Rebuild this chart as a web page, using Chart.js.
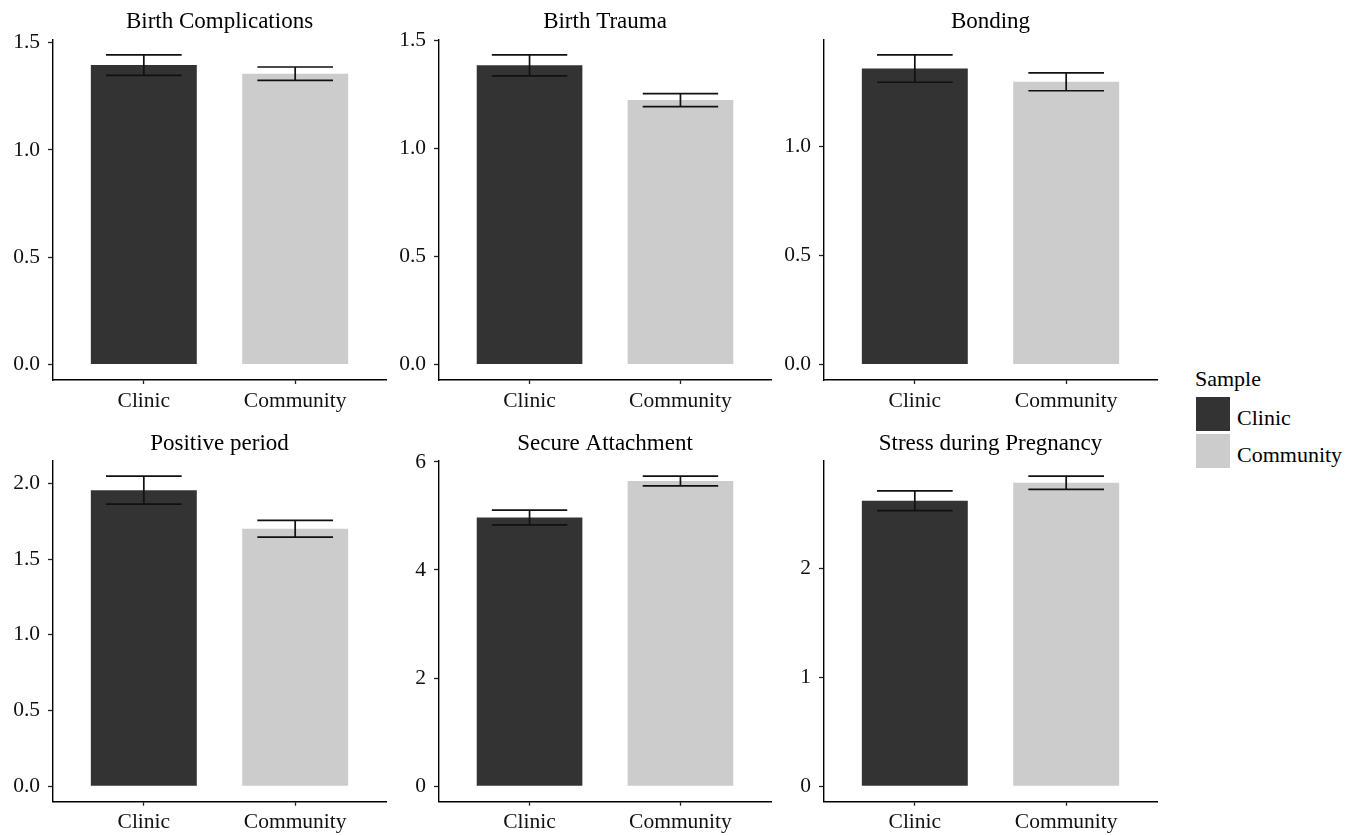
<!DOCTYPE html>
<html>
<head>
<meta charset="utf-8">
<script src="https://cdn.jsdelivr.net/npm/chart.js@4/dist/chart.umd.min.js"></script>
<style>
  html, body { margin: 0; padding: 0; background: #ffffff; }
  #fig { position: relative; width: 1363px; height: 836px; overflow: hidden; background: #ffffff; }
  .panel { position: absolute; }
  .legend { position: absolute; font-family: 'Liberation Serif', 'Times New Roman', serif; color: #000; }
  .legend .txt { position: absolute; white-space: nowrap; font-size: 22px; line-height: 22px; }
  .legend .key { position: absolute; width: 34px; height: 34px; }
</style>
</head>
<body>
<div id="fig"></div>
<script>
// ---- data ----
const groups = ['Clinic', 'Community'];
const groupColors = ['#333333', '#CCCCCC'];
const legendTitle = 'Sample';

const panelTitles = ['Birth Complications', 'Birth Trauma', 'Bonding',
                     'Positive period', 'Secure Attachment', 'Stress during Pregnancy'];

// group means and standard errors
const birthComplicationsMean = [1.395, 1.355];
const birthComplicationsSE   = [0.048, 0.031];
const birthTraumaMean        = [1.386, 1.225];
const birthTraumaSE          = [0.049, 0.030];
const bondingMean            = [1.358, 1.297];
const bondingSE              = [0.063, 0.041];
const positivePeriodMean     = [1.955, 1.700];
const positivePeriodSE       = [0.092, 0.055];
const secureAttachmentMean   = [4.970, 5.645];
const secureAttachmentSE     = [0.137, 0.090];
const stressPregnancyMean    = [2.620, 2.785];
const stressPregnancySE      = [0.091, 0.060];

// y-axis ticks per panel
const ticksHalf      = [0, 0.5, 1.0, 1.5];
const ticksHalfLbl   = ['0.0', '0.5', '1.0', '1.5'];
const ticksBonding    = [0, 0.5, 1.0];
const ticksBondingLbl = ['0.0', '0.5', '1.0'];
const ticksPositive    = [0, 0.5, 1.0, 1.5, 2.0];
const ticksPositiveLbl = ['0.0', '0.5', '1.0', '1.5', '2.0'];
const ticksSecure    = [0, 2, 4, 6];
const ticksSecureLbl = ['0', '2', '4', '6'];
const ticksStress    = [0, 1, 2];
const ticksStressLbl = ['0', '1', '2'];

const panelMeans  = [birthComplicationsMean, birthTraumaMean, bondingMean,
                     positivePeriodMean, secureAttachmentMean, stressPregnancyMean];
const panelSE     = [birthComplicationsSE, birthTraumaSE, bondingSE,
                     positivePeriodSE, secureAttachmentSE, stressPregnancySE];
const panelTicks  = [ticksHalf, ticksHalf, ticksBonding, ticksPositive, ticksSecure, ticksStress];
const panelTickLabels = [ticksHalfLbl, ticksHalfLbl, ticksBondingLbl,
                         ticksPositiveLbl, ticksSecureLbl, ticksStressLbl];

// ---- layout ----
const FONT = "'Liberation Serif', 'Times New Roman', serif";
Chart.defaults.font.family = FONT;
Chart.defaults.color = '#000';

const cols = [
  { left: 0,   width: 390, axisW: 53 },
  { left: 390, width: 385, axisW: 49 },
  { left: 775, width: 386, axisW: 49 }
];
const rows = [
  { top: 0,   height: 420, xAxisH: 40.0, padTop: 8.2,  padBottom: 3.5 },
  { top: 420, height: 416, xAxisH: 34.3, padTop: 10.6, padBottom: 2.5 }
];
const padRight = 4;

// error bars (mean ± SE) drawn on the chart's own scales
const errorBars = {
  id: 'errorBars',
  afterDatasetsDraw(chart, args, opts) {
    const { ctx } = chart;
    const xs = chart.scales.x, ys = chart.scales.y;
    const ds = chart.data.datasets[0];
    ctx.save();
    ctx.strokeStyle = opts.color;
    ctx.lineWidth = opts.lineWidth;
    ds.data.forEach((pt, i) => {
      const e = ds.errors[i];
      const xc = xs.getPixelForValue(pt.x);
      const xl = xs.getPixelForValue(pt.x - opts.halfWidth);
      const xr = xs.getPixelForValue(pt.x + opts.halfWidth);
      const yt = ys.getPixelForValue(pt.y + e);
      const yb = ys.getPixelForValue(pt.y - e);
      ctx.beginPath();
      ctx.moveTo(xl, yt); ctx.lineTo(xr, yt);
      ctx.moveTo(xl, yb); ctx.lineTo(xr, yb);
      ctx.moveTo(xc, yt); ctx.lineTo(xc, yb);
      ctx.stroke();
    });
    ctx.restore();
  }
};

const fig = document.getElementById('fig');

panelTitles.forEach((title, p) => {
  const col = cols[p % 3], row = rows[Math.floor(p / 3)];
  const wrap = document.createElement('div');
  wrap.className = 'panel';
  wrap.style.left = col.left + 'px';
  wrap.style.top = row.top + 'px';
  wrap.style.width = col.width + 'px';
  wrap.style.height = row.height + 'px';
  const cv = document.createElement('canvas');
  cv.width = col.width; cv.height = row.height;
  cv.style.width = col.width + 'px'; cv.style.height = row.height + 'px';
  wrap.appendChild(cv);
  fig.appendChild(wrap);

  const means = panelMeans[p], se = panelSE[p];
  const top = Math.max(...means.map((m, i) => m + se[i]));
  const yMin = -0.05 * top, yMax = 1.05 * top;
  const ticks = panelTicks[p], tickLbl = panelTickLabels[p];

  new Chart(cv, {
    type: 'bar',
    data: {
      datasets: [{
        data: means.map((m, i) => ({ x: i + 1, y: m })),
        errors: se,
        backgroundColor: groupColors,
        borderWidth: 0,
        barPercentage: 0.7,
        categoryPercentage: 1.0
      }]
    },
    options: {
      responsive: false,
      animation: false,
      devicePixelRatio: 1,
      layout: { padding: { left: 0, right: padRight, top: 0, bottom: 0 } },
      plugins: {
        legend: { display: false },
        tooltip: { enabled: false },
        title: {
          display: true,
          text: title,
          fullSize: false,
          color: '#000',
          font: { size: 23, weight: 'normal', family: FONT },
          padding: { top: row.padTop, bottom: row.padBottom }
        },
        errorBars: { color: '#111111', lineWidth: 1.7, halfWidth: 0.25 }
      },
      scales: {
        x: {
          type: 'linear',
          min: 0.4, max: 2.6,
          offset: false,
          afterBuildTicks(scale) { scale.ticks = groups.map((g, i) => ({ value: i + 1 })); },
          afterFit(scale) { scale.height = row.xAxisH; },
          ticks: {
            callback: (v, i) => groups[i],
            color: '#111',
            font: { size: 21.5, family: FONT },
            padding: 4,
            maxRotation: 0,
            autoSkip: false
          },
          grid: { drawOnChartArea: false, drawTicks: true, tickLength: 4, color: '#222', tickWidth: 1.3, offset: false },
          border: { display: true, color: '#000', width: 1.4 }
        },
        y: {
          type: 'linear',
          min: yMin, max: yMax,
          afterBuildTicks(scale) { scale.ticks = ticks.map(v => ({ value: v })); },
          afterFit(scale) { scale.width = col.axisW; },
          ticks: {
            callback: (v, i) => tickLbl[i],
            color: '#111',
            font: { size: 21.5, family: FONT },
            padding: 8,
            autoSkip: false
          },
          grid: { drawOnChartArea: false, drawTicks: true, tickLength: 5, color: '#222', tickWidth: 1.3 },
          border: { display: true, color: '#000', width: 1.4 }
        }
      }
    },
    plugins: [errorBars]
  });
});

// shared legend
const legend = document.createElement('div');
legend.className = 'legend';
legend.style.left = '0px'; legend.style.top = '0px';
const lt = document.createElement('div');
lt.className = 'txt';
lt.textContent = legendTitle;
lt.style.left = '1195px'; lt.style.top = '368px';
legend.appendChild(lt);
const keyTops = [397.3, 434.3];
groups.forEach((g, i) => {
  const k = document.createElement('div');
  k.className = 'key';
  k.style.left = '1196px';
  k.style.top = keyTops[i] + 'px';
  k.style.background = groupColors[i];
  legend.appendChild(k);
  const t = document.createElement('div');
  t.className = 'txt';
  t.textContent = g;
  t.style.left = '1237px';
  t.style.top = (keyTops[i] + 9.5) + 'px';
  legend.appendChild(t);
});
fig.appendChild(legend);
</script>
</body>
</html>
